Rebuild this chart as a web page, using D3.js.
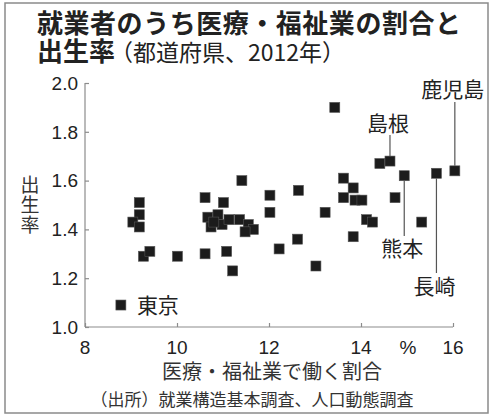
<!DOCTYPE html>
<html><head><meta charset="utf-8">
<script src="https://cdn.jsdelivr.net/npm/d3@7"></script>
<style>
html,body{margin:0;padding:0;background:#fff;}
svg{display:block;}
text{font-family:"Noto Sans CJK JP","Noto Sans",sans-serif;}
.num{font-family:"Liberation Sans",Arial,sans-serif;}
</style>
</head><body>
<svg id="chart" width="491" height="416"></svg>
<script>
// 医療・福祉業で働く割合 (%)
const shareValues = [8.78, 9.18, 9.18, 9.04, 9.18, 9.27, 9.41, 10.01, 10.61, 11.08,
  11.21, 10.61, 11.01, 10.67, 10.74, 10.89, 10.98, 11.13, 11.41, 11.36,
  11.55, 11.66, 11.48, 12.02, 12.02, 12.64, 12.62, 12.22, 13.02, 13.22,
  13.43, 13.62, 13.83, 13.62, 13.87, 14.02, 14.74, 14.12, 14.25, 13.83,
  14.41, 14.63, 14.94, 15.64, 16.04, 15.32, 10.80];
// 出生率
const birthRates = [1.09, 1.51, 1.46, 1.43, 1.41, 1.29, 1.31, 1.29, 1.30, 1.31,
  1.23, 1.53, 1.51, 1.45, 1.41, 1.46, 1.42, 1.44, 1.60, 1.44,
  1.42, 1.40, 1.39, 1.54, 1.47, 1.56, 1.36, 1.32, 1.25, 1.47,
  1.90, 1.61, 1.57, 1.53, 1.52, 1.52, 1.53, 1.44, 1.43, 1.37,
  1.67, 1.68, 1.62, 1.63, 1.64, 1.43, 1.43];
const pointNames = ["東京", "", "", "", "", "", "", "", "", "",
  "", "", "", "", "", "", "", "", "", "",
  "", "", "", "", "", "", "", "", "", "",
  "", "", "", "", "", "", "", "", "", "",
  "", "島根", "熊本", "長崎", "鹿児島", "", ""];
const xTicks = [8, 10, 12, 14, 16];
const yTicks = [1.0, 1.2, 1.4, 1.6, 1.8, 2.0];
const titleLine1 = "就業者のうち医療・福祉業の割合と";
const titleLine2a = "出生率";
const titleLine2b = "（都道府県、2012年）";
const yTitle = "出生率";
const xTitle = "医療・福祉業で働く割合";
const sourceText = "（出所）就業構造基本調査、人口動態調査";

const svg = d3.select("#chart");
const x = d3.scaleLinear().domain([8, 16]).range([85, 453]);
const y = d3.scaleLinear().domain([1.0, 2.0]).range([327, 83]);

// frame
svg.append("rect").attr("x", 5).attr("y", 3).attr("width", 483).attr("height", 410)
  .attr("fill", "#fff").attr("stroke", "#8a8a8a").attr("stroke-width", 1.5);

// title
svg.append("text").attr("x", 37).attr("y", 33)
  .attr("font-size", 26).attr("font-weight", "bold").attr("fill", "#222")
  .attr("textLength", 424).attr("lengthAdjust", "spacing")
  .text(titleLine1);
const t2 = svg.append("text").attr("x", 37).attr("y", 61).attr("fill", "#222");
t2.append("tspan").attr("font-size", 26).attr("font-weight", "bold").text(titleLine2a);
t2.append("tspan").attr("font-size", 23).attr("font-weight", "normal").attr("dx", -5).text(titleLine2b);

// axes
const axisColor = "#8c8c8c";
const yAxis = svg.append("g").attr("transform", `translate(${x(8)},0)`)
  .call(d3.axisRight(y).tickValues(yTicks).tickSize(4).tickFormat(""));
const xAxis = svg.append("g").attr("transform", `translate(0,${y(1.0)})`)
  .call(d3.axisTop(x).tickValues(xTicks).tickSize(4).tickFormat(""));
[yAxis, xAxis].forEach(g => {
  g.select(".domain").attr("stroke", axisColor).attr("stroke-width", 1.2);
  g.selectAll(".tick line").attr("stroke", axisColor).attr("stroke-width", 1.2);
});
yAxis.select(".domain").attr("d", `M0,${y(2.0)}V${y(1.0)}`);
xAxis.select(".domain").attr("d", `M${x(8)},0H${x(16)}`);

// tick labels
svg.append("g").selectAll("text").data(yTicks).join("text")
  .attr("class", "num").attr("x", 78).attr("y", d => y(d)).attr("dy", "0.36em")
  .attr("text-anchor", "end").attr("font-size", 19).attr("fill", "#222")
  .text(d => d3.format(".1f")(d));
svg.append("g").selectAll("text").data(xTicks).join("text")
  .attr("class", "num").attr("x", d => x(d)).attr("y", 354)
  .attr("text-anchor", "middle").attr("font-size", 19).attr("fill", "#222")
  .text(d => d);
svg.append("text").attr("class", "num").attr("x", 408).attr("y", 354)
  .attr("text-anchor", "middle").attr("font-size", 19).attr("fill", "#222").text("%");

// axis titles
svg.append("text").attr("x", 30).attr("y", 205)
  .attr("writing-mode", "vertical-rl").attr("text-anchor", "middle")
  .attr("font-size", 19).attr("fill", "#333").attr("letter-spacing", 1)
  .text(yTitle);
svg.append("text").attr("x", 272).attr("y", 379).attr("text-anchor", "middle")
  .attr("font-size", 20).attr("fill", "#333").text(xTitle);
svg.append("text").attr("x", 252).attr("y", 406).attr("text-anchor", "middle")
  .attr("font-size", 17).attr("fill", "#333").text(sourceText);

// points
const pts = shareValues.map((v, i) => ({ x: v, y: birthRates[i], name: pointNames[i] }));
const sz = 10;
svg.append("g").selectAll("rect").data(pts).join("rect")
  .attr("x", d => x(d.x) - sz / 2).attr("y", d => y(d.y) - sz / 2)
  .attr("width", sz).attr("height", sz)
  .attr("fill", "#1c1c1c").attr("stroke", "#555").attr("stroke-width", 0.6);

// annotations (layout only)
const ann = {
  "東京":  { dir: "right" },
  "島根":  { dir: "up", y2: 135, ty: 131 },
  "鹿児島": { dir: "up", y2: 102, ty: 97 },
  "熊本":  { dir: "down", y2: 236, ty: 256 },
  "長崎":  { dir: "down", y2: 273, ty: 294 }
};
const annG = svg.append("g");
pts.filter(d => d.name).forEach(d => {
  const a = ann[d.name];
  const px = x(d.x), py = y(d.y);
  if (a.dir === "right") {
    annG.append("text").attr("x", px + 16).attr("y", py + 8)
      .attr("font-size", 21).attr("fill", "#222").text(d.name);
  } else {
    const y1 = a.dir === "up" ? py - sz / 2 : py + sz / 2;
    annG.append("line").attr("x1", px).attr("x2", px).attr("y1", y1).attr("y2", a.y2)
      .attr("stroke", "#555").attr("stroke-width", 1.2);
    annG.append("text").attr("x", px - 2).attr("y", a.ty).attr("text-anchor", "middle")
      .attr("font-size", 21).attr("fill", "#222").text(d.name);
  }
});
</script>
</body></html>
